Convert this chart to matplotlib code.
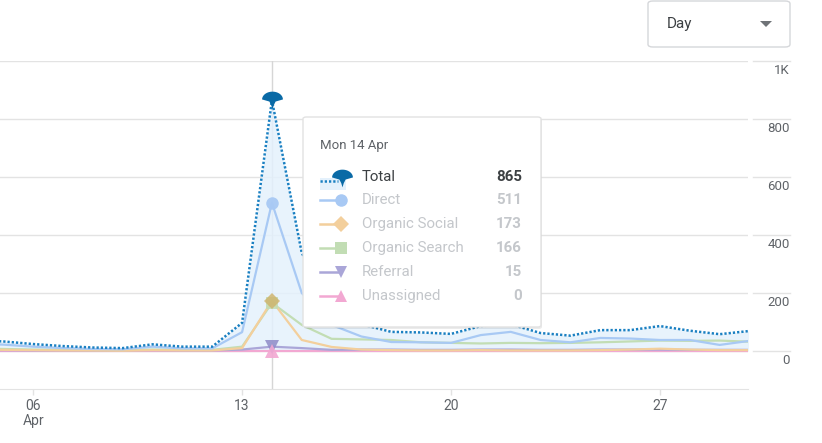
import numpy as np
import matplotlib
matplotlib.use("Agg")
import matplotlib.pyplot as plt
from matplotlib.path import Path
from matplotlib.lines import Line2D
from matplotlib.patches import FancyBboxPatch, Rectangle, Polygon
import matplotlib.transforms as mtrans

plt.rcParams['font.family'] = ['Roboto', 'DejaVu Sans']

# ---------------- data ----------------
days = list(range(4, 31))  # April
total = [38, 33, 24, 17, 12, 10, 23, 15, 15, 97, 865, 338, 150, 92, 66, 64, 59, 86, 92, 62, 53, 72, 72, 86, 70, 58, 69]
direct = [25, 22, 15, 10, 7, 6, 15, 9, 9, 65, 511, 200, 90, 50, 31, 30, 28, 55, 66, 38, 30, 45, 43, 38, 38, 21, 35]
organic_social = [5, 4, 3, 2, 2, 1, 3, 2, 2, 10, 173, 38, 14, 5, 3, 2, 2, 3, 2, 2, 2, 3, 5, 8, 5, 3, 3]
organic_search = [8, 7, 5, 4, 3, 3, 5, 4, 4, 15, 166, 90, 42, 40, 38, 30, 28, 26, 28, 27, 28, 30, 33, 36, 35, 36, 32]
referral = [3, 3, 2, 2, 2, 2, 3, 2, 2, 5, 15, 10, 4, 5, 5, 4, 4, 5, 5, 4, 4, 5, 5, 5, 4, 4, 4]
unassigned = [0] * 27
hover_day = 14
series_names = ["Total", "Direct", "Organic Social", "Organic Search", "Referral", "Unassigned"]
hover_values = [865, 511, 173, 166, 15, 0]
x_ticks = [6, 13, 20, 27]
x_ticklabels = ["06\nApr", "13", "20", "27"]
y_ticks = [0, 200, 400, 600, 800, 1000]
y_ticklabels = ["0", "200", "400", "600", "800", "1K"]

# ---------------- styling ----------------
W, H = 822, 443
c_total = '#1a80c2'
c_total_marker = '#0a6aa6'
c_fill = '#e4f1fc'
c_direct = '#a8c9f4'
c_social = '#f3cf9c'
c_search = '#c2ddb4'
c_ref = '#aaa6d8'
c_unas = '#f2a8d2'
grid_c = '#e3e3e3'
txt_c = '#5f6368'

fig = plt.figure(figsize=(W / 100, H / 100), dpi=100)

def fx(x):
    return x / W

def fy(y):
    return 1 - y / H

ax = fig.add_axes([fx(0), fy(389), fx(748), (389 - 61) / H])
ax.set_xlim(4.89, 29.95)
ax.set_ylim(-131, 1000)
for s in ax.spines.values():
    s.set_visible(False)
ax.spines['bottom'].set_visible(True)
ax.spines['bottom'].set_color(grid_c)

# gridlines
for v in y_ticks:
    ax.axhline(v, color=grid_c, lw=1, zorder=0)
# gridline extension into label area + labels (label sits just below its gridline)
bt = mtrans.blended_transform_factory(fig.transFigure, ax.transData)
lab_off = mtrans.offset_copy(bt, fig=fig, x=0, y=-9, units='dots')
for v, lab in zip(y_ticks, y_ticklabels):
    ax.add_line(Line2D([fx(753), fx(790)], [v, v], transform=bt, color=grid_c, lw=1, clip_on=False))
    ax.text(fx(790), v, lab, transform=lab_off, ha='right', va='center', fontsize=9.5,
            color=txt_c, clip_on=False)

ax.set_yticks([])
ax.set_xticks(x_ticks)
ax.set_xticklabels(x_ticklabels, fontsize=10, color=txt_c, linespacing=1.1)
ax.tick_params(axis='x', length=4, color=grid_c, width=1, pad=3)

# crosshair
ax.axvline(hover_day, color='#d6d6d6', lw=1, zorder=1)

# series
ax.fill_between(days, 0, total, color=c_fill, alpha=0.85, lw=0, zorder=1)
ax.plot(days, unassigned, color=c_unas, lw=1.6, zorder=3)
ax.plot(days, referral, color=c_ref, lw=1.6, zorder=3)
ax.plot(days, organic_search, color=c_search, lw=1.6, zorder=3)
ax.plot(days, organic_social, color=c_social, lw=1.6, zorder=3)
ax.plot(days, direct, color=c_direct, lw=1.6, zorder=3)
ax.plot(days, total, color=c_total, lw=1.8, linestyle=(0, (0.9, 0.8)), zorder=4)

# pin marker
th = np.linspace(0, np.pi, 24)
pin = [(np.cos(t), 0.75 * np.sin(t) + 0.1) for t in th]
pin += [(-1, 0.1), (-0.3, -0.1), (-0.12, -0.45), (0, -0.85), (0.12, -0.45), (0.3, -0.1), (1, 0.1)]
pin_path = Path(pin)

hi = days.index(hover_day)
ax.plot([hover_day], [direct[hi]], marker='o', ms=9, color=c_direct, mew=0, alpha=0.95, zorder=5)
ax.plot([hover_day], [organic_search[hi]], marker='s', ms=9, color=c_search, mew=0, alpha=0.85, zorder=5)
ax.plot([hover_day], [organic_social[hi]], marker='D', ms=8, color='#cfb269', mew=0, alpha=0.8, zorder=5)
ax.plot([hover_day], [referral[hi]], marker='v', ms=10, color='#8f8bc8', mew=0, alpha=0.85, zorder=5)
ax.plot([hover_day], [unassigned[hi]], marker='^', ms=10, color=c_unas, mew=0, alpha=0.9, zorder=5)
ax.plot([hover_day], [total[hi]], marker=pin_path, ms=15, color=c_total_marker, mew=0, zorder=6)

# ---------------- tooltip ----------------
tx0, ty0, tx1, ty1 = 303, 117, 541, 327
shadow = FancyBboxPatch((fx(tx0 + 1), fy(ty1 + 2)), fx(tx1 - tx0), (ty1 - ty0) / H,
                        boxstyle='round,pad=0,rounding_size=0.004', transform=fig.transFigure,
                        facecolor='#000000', alpha=0.08, edgecolor='none', zorder=9)
fig.add_artist(shadow)
box = FancyBboxPatch((fx(tx0), fy(ty1)), fx(tx1 - tx0), (ty1 - ty0) / H,
                     boxstyle='round,pad=0,rounding_size=0.004', transform=fig.transFigure,
                     facecolor='white', edgecolor='#e2e2e2', lw=1, zorder=10)
fig.add_artist(box)
fig.text(fx(320), fy(146), "Mon 14 Apr", fontsize=9.5, color=txt_c, va='center', ha='left', zorder=11)

row_y = [177, 200, 224, 248, 272, 296]
row_cols = [c_total, c_direct, c_social, c_search, c_ref, c_unas]
row_markers = [pin_path, 'o', 'D', 's', 'v', '^']
for i, (name, val, yy, col, mk) in enumerate(zip(series_names, hover_values, row_y, row_cols, row_markers)):
    if i == 0:
        fig.add_artist(Rectangle((fx(320), fy(190)), fx(26), 12 / H, transform=fig.transFigure,
                                 facecolor=c_fill, edgecolor='none', zorder=11))
        fig.add_artist(Line2D([fx(320), fx(338)], [fy(181), fy(181)], transform=fig.transFigure,
                              color=c_total, lw=1.8, linestyle=(0, (0.9, 0.8)), zorder=12))
        fig.add_artist(Line2D([fx(342)], [fy(178)], transform=fig.transFigure, marker=pin_path,
                              ms=15, color=c_total_marker, mew=0, zorder=13))
        tc, vc, nw = '#3c4043', '#3c4043', 'normal'
    else:
        fig.add_artist(Line2D([fx(320), fx(340)], [fy(yy), fy(yy)], transform=fig.transFigure,
                              color=col, lw=1.8, zorder=12))
        fig.add_artist(Line2D([fx(341)], [fy(yy)], transform=fig.transFigure, marker=mk,
                              ms=9 if mk != 'D' else 8, color=col, mew=0, zorder=13))
        tc, vc, nw = '#c4c7cb', '#c4c7cb', 'normal'
    fig.text(fx(362), fy(yy), name, fontsize=10.8, color=tc, va='center', ha='left', zorder=12)
    fig.text(fx(522), fy(yy), str(val), fontsize=10.8, color=vc, va='center', ha='right',
             fontweight='bold', zorder=12)

# ---------------- dropdown ----------------
dd = FancyBboxPatch((fx(648), fy(47)), fx(142), 46 / H, boxstyle='round,pad=0,rounding_size=0.006',
                    transform=fig.transFigure, facecolor='white', edgecolor='#d5d7da', lw=1)
fig.add_artist(dd)
fig.text(fx(667), fy(24), "Day", fontsize=11, color='#3c4043', va='center', ha='left')
fig.add_artist(Polygon([(fx(760), fy(21)), (fx(772), fy(21)), (fx(766), fy(27))], closed=True,
                       transform=fig.transFigure, facecolor='#6f7377', edgecolor='none'))

fig.savefig("out.png", dpi=100)
